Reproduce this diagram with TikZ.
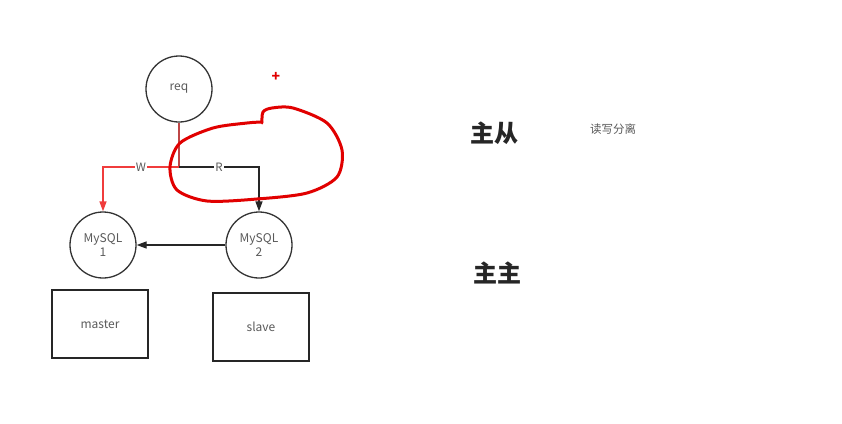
\documentclass[tikz,border=0pt]{standalone}
\usepackage{fontspec}
\setmainfont{Noto Sans CJK SC}
\usepackage{xcolor}
\usetikzlibrary{arrows.meta}

\definecolor{inkgray}{RGB}{90,90,90}
\definecolor{wred}{RGB}{240,60,60}
\definecolor{stemred}{RGB}{190,70,70}
\definecolor{penred}{RGB}{225,0,0}

\begin{document}
\begin{tikzpicture}[x=1pt,y=-1pt,
  db/.style={draw=black!80,line width=1.3pt,circle,minimum size=66pt,inner sep=0pt,
    align=center,text=inkgray,font=\fontsize{12}{14}\selectfont},
  store/.style={draw=black!85,line width=1.3pt,minimum width=96pt,minimum height=68pt,
    text=inkgray,font=\fontsize{12}{14}\selectfont},
  lbl/.style={fill=white,inner sep=1pt,text=inkgray,font=\fontsize{11.5}{12}\selectfont},
  tip/.style={-{Triangle[length=10pt,width=7pt]}}]
  \useasboundingbox[fill=white] (0,0) rectangle (842,423);

  % nodes
  \node[db] (req) at (179,89) {req};
  \node[db] (m1) at (103,245) {MySQL\\1};
  \node[db] (m2) at (259,245) {MySQL\\2};
  \node[store] (master) at (100,324) {master};
  \node[store] (slave) at (261,327) {slave};
  \coordinate (split) at (179,167);

  % write / read
  \draw[stemred,line width=1.3pt] (req) -- (split);
  \draw[wred,line width=1.3pt,tip] (split) -| node[lbl,pos=0.25] {W} (m1);
  \draw[black!85,line width=1.3pt,tip] (split) -| node[lbl,pos=0.25] {R} (m2);
  \draw[black!85,line width=1.3pt,tip] (m2) -- (m1);

  % hand drawn mark
  \draw[penred,line width=3pt,line cap=round] plot[smooth] coordinates {
    (262,123) (263,112) (272,108) (293,108) (327,123) (342,150) (337,177)
    (307,193) (257,199) (207,201) (177,190) (170,167) (180,143)
    (213,128) (247,123) (262,122)};
  \node[text=penred,font=\bfseries\fontsize{14}{14}\selectfont] (plus) at (276,77) {+};

  % notes
  \node[font=\bfseries\fontsize{24}{28}\selectfont,text=black!85] (ms) at (494,133) {主从};
  \node[font=\fontsize{11.5}{14}\selectfont,text=inkgray] (rw) at (613,129) {读写分离};
  \node[font=\bfseries\fontsize{24}{28}\selectfont,text=black!85] (mm) at (497,273) {主主};
\end{tikzpicture}
\end{document}
